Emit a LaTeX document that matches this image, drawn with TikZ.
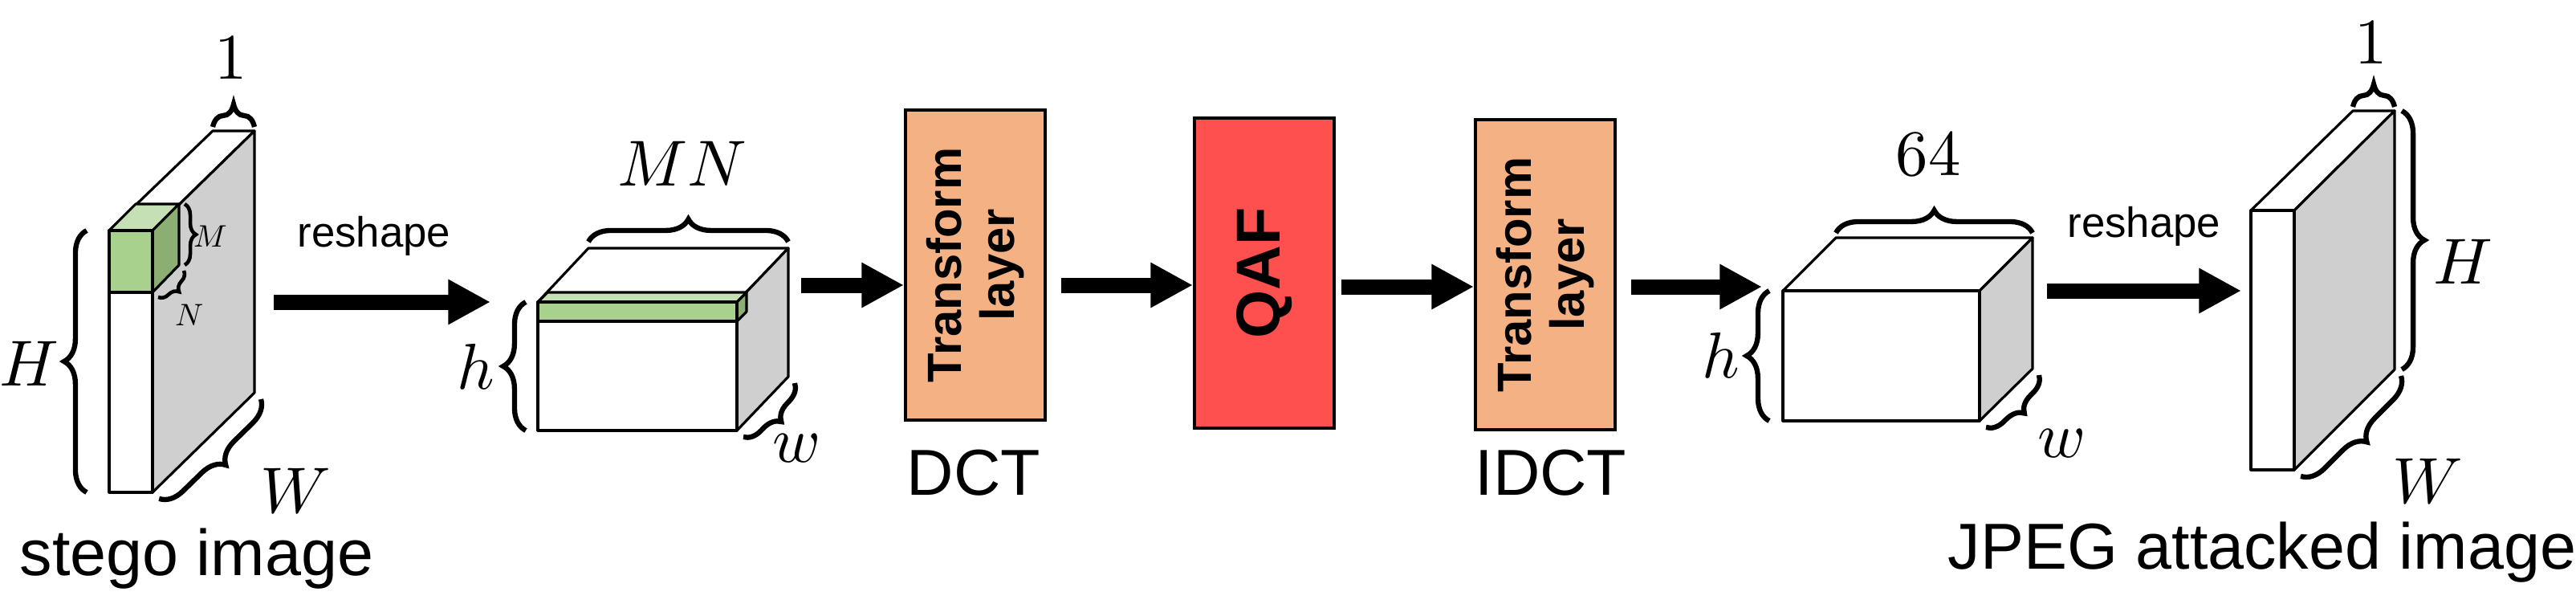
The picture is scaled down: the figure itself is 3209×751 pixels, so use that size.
\documentclass[tikz,border=0pt]{standalone}
\usepackage{amsmath}
\usepackage{fontspec}
\usepackage{unicode-math}
\setmainfont{Liberation Sans}
\setmathfont{Latin Modern Math}
\usepackage{tikz}
\usetikzlibrary{positioning,calc,arrows.meta,decorations.pathreplacing}
\definecolor{layerorange}{HTML}{F4B183}
\definecolor{qafred}{HTML}{FF5050}
\definecolor{sidegrey}{HTML}{CFCFCF}
\definecolor{greenfront}{HTML}{A9D18E}
\definecolor{greentop}{HTML}{C5E0B4}
\definecolor{greenside}{HTML}{8CAE72}
\tikzset{
  edge/.style={draw=black,line width=0.9pt,line join=round},
  bigarrow/.style={line width=5.4pt,-{Triangle[length=15pt,width=15pt]}},
  dimbrace/.style={decorate,decoration={brace,amplitude=8pt},line width=1.8pt},
  layer/.style={draw,line width=1.1pt,fill=layerorange,minimum width=1.74cm,minimum height=3.86cm,inner sep=0pt},
  lbl/.style={font=\fontsize{23}{25}\selectfont},
  mlbl/.style={font=\fontsize{23}{25}\selectfont}
}
\begin{document}
\begin{tikzpicture}[x=0.01cm,y=-0.01cm]
\useasboundingbox (0,0) rectangle (3209,751);
%stego image
\filldraw[edge,fill=white] (136,287) -- (265,163) -- (317,163) -- (190,287) -- cycle;
\filldraw[edge,fill=sidegrey] (190,287) -- (317,163) -- (317,489) -- (190,613) -- cycle;
\filldraw[edge,fill=white] (136,287) rectangle (190,613);
\filldraw[edge,fill=greentop] (136,287) -- (169,254) -- (223,254) -- (190,287) -- cycle;
\filldraw[edge,fill=greenside] (190,287) -- (223,254) -- (223,330) -- (190,364) -- cycle;
\filldraw[edge,fill=greenfront] (136,287) rectangle (190,364);
\draw[dimbrace] (108,613) -- (108,287);
\draw[dimbrace] (265,158) -- (317,158);
\draw[dimbrace,decoration={amplitude=4pt},line width=1.3pt] (230,254) -- (230,330);
\draw[dimbrace,decoration={amplitude=4pt},line width=1.3pt] (229,337) -- (197,370);
\draw[dimbrace] (325,497) -- (198,621);
\node[mlbl] (sH) at (36,453) {$H$};
\node[mlbl] (s1) at (288,72) {$1$};
\node[font=\fontsize{11}{12}\selectfont] (sM) at (262,294) {$M$};
\node[font=\fontsize{11}{12}\selectfont] (sN) at (236,392) {$N$};
\node[mlbl,inner sep=0pt] (sW) at (368,612) {$W$};
\node[lbl,inner sep=0pt] (stego) at (245,696) {stego image};
\coordinate (s out) at (341,376);
\coordinate (mn in) at (611,376);
\node[font=\fontsize{15}{17}\selectfont] (rs1) at (466,294) {reshape};
%MN block
\filldraw[edge,fill=white] (670,376) -- (733,309) -- (982,309) -- (918,376) -- cycle;
\filldraw[edge,fill=sidegrey] (918,376) -- (982,309) -- (982,469) -- (918,536) -- cycle;
\filldraw[edge,fill=white] (670,376) rectangle (918,536);
\filldraw[edge,fill=greentop] (670,376) -- (682,364) -- (930,364) -- (918,376) -- cycle;
\filldraw[edge,fill=greenside] (918,376) -- (930,364) -- (930,388) -- (918,400) -- cycle;
\filldraw[edge,fill=greenfront] (670,376) rectangle (918,400);
\draw[dimbrace] (733,301) -- (982,301);
\draw[dimbrace] (655,536) -- (655,376);
\draw[dimbrace,decoration={amplitude=6pt}] (990,477) -- (926,544);
\node[mlbl] (mnl) at (850,204) {$MN$};
\node[mlbl] (mnh) at (593,457) {$h$};
\node[mlbl] (mnw) at (992,558) {$w$};
\coordinate (mn out) at (998,355);
%transform layers and QAF
\node[layer] (dct) at (1215,330) {\rotatebox{90}{\parbox{3cm}{\centering\bfseries\fontsize{17}{19}\selectfont Transform\\layer}}};
\node[layer,fill=qafred] (qaf) at (1575,340) {\rotatebox{90}{\bfseries\fontsize{22}{24}\selectfont QAF}};
\node[layer] (idct) at (1925,342) {\rotatebox{90}{\parbox{3cm}{\centering\bfseries\fontsize{17}{19}\selectfont Transform\\layer}}};
\node[lbl] (dctl) at (1213,589) {DCT};
\node[lbl] (idctl) at (1932,589) {IDCT};
%64 block
\filldraw[edge,fill=white] (2221,362) -- (2287,296) -- (2532,296) -- (2466,362) -- cycle;
\filldraw[edge,fill=sidegrey] (2466,362) -- (2532,296) -- (2532,459) -- (2466,524) -- cycle;
\filldraw[edge,fill=white] (2221,362) rectangle (2466,524);
\draw[dimbrace] (2287,290) -- (2532,290);
\draw[dimbrace] (2204,524) -- (2204,362);
\draw[dimbrace,decoration={amplitude=6pt}] (2540,467) -- (2474,532);
\node[mlbl] (l64) at (2402,192) {$64$};
\node[mlbl] (ch) at (2144,443) {$h$};
\node[mlbl] (cw) at (2568,552) {$w$};
\coordinate (c in) at (2195,357);
\coordinate (c out) at (2550,362);
\coordinate (j in) at (2792,362);
\node[font=\fontsize{15}{17}\selectfont] (rs2) at (2671,282) {reshape};
%JPEG attacked image
\filldraw[edge,fill=white] (2804,262) -- (2931,138) -- (2983,138) -- (2858,262) -- cycle;
\filldraw[edge,fill=sidegrey] (2858,262) -- (2983,138) -- (2983,460) -- (2858,585) -- cycle;
\filldraw[edge,fill=white] (2804,262) rectangle (2858,585);
\draw[dimbrace] (2931,133) -- (2983,133);
\draw[dimbrace] (2992,138) -- (2992,460);
\draw[dimbrace] (2991,468) -- (2866,593);
\node[mlbl] (j1) at (2954,53) {$1$};
\node[mlbl] (jH) at (3068,326) {$H$};
\node[mlbl] (jW) at (3024,600) {$W$};
\node[lbl] (jpeg) at (2818,688) {JPEG attacked image};
%arrows
\draw[bigarrow] (s out) -- (mn in);
\draw[bigarrow] (mn out) -- (mn out -| dct.west);
\draw[bigarrow] ([xshift=5pt]dct.east |- mn out) -- (qaf.west |- mn out);
\draw[bigarrow] ([xshift=2pt]qaf.east |- c in) -- (idct.west |- c in);
\draw[bigarrow] ([xshift=5pt]idct.east |- c in) -- (c in);
\draw[bigarrow] (c out) -- (j in);
\end{tikzpicture}
\end{document}
